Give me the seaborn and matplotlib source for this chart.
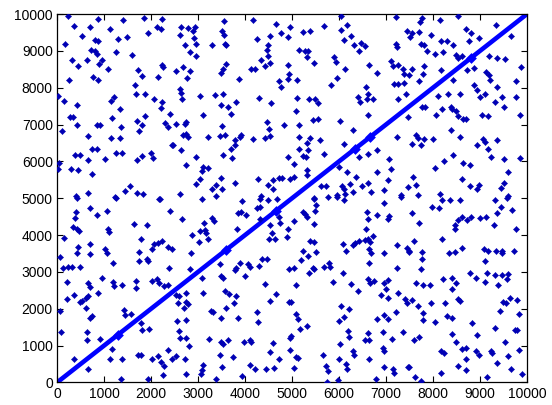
"""
Scatter of random-looking points with a dense diagonal (y = x) band,
recreated with seaborn in a MATLAB-like look.
"""

import pandas as pd
import matplotlib
matplotlib.use("Agg")
import matplotlib.pyplot as plt
import seaborn as sns

# --- data (x, y pairs, grouped by region) ---
pts_top_1 = [
    (226, 9946), (879, 9856), (1410, 9829), (1857, 9892), (2226, 9856), (368, 9675),
    (694, 9648), (1127, 9603), (2127, 9648), (2212, 9603), (524, 9403), (1942, 9494),
    (1304, 9331), (1488, 9376), (808, 9286), (865, 9259), (170, 9195), (723, 9032),
    (808, 8987), (858, 8924), (1247, 8969), (1588, 8879), (326, 8743), (631, 8743),
    (950, 8743), (900, 8634), (439, 8589), (1091, 8498), (1730, 8471), (2226, 8607),
    (2247, 8562), (1800, 8317), (2155, 8290), (765, 8290), (865, 8200), (255, 8200),
    (1659, 8082), (1680, 7838), (1864, 7829), (2056, 7702), (28, 7774), (156, 7630),
    (1148, 7639), (1219, 7747), (2226, 7612), (2212, 7449), (425, 7521), (1340, 7431),
    (2403, 7295), (276, 7204), (347, 7204), (1177, 7177), (1871, 7231), (1694, 7087),
    (1800, 6978), (2297, 7050), (2354, 6933), (843, 6996), (914, 6978), (418, 6978),
    (1354, 6933), (99, 6815), (1744, 6824), (652, 6688), (1148, 6634), (1340, 6634),
    (2453, 6453), (737, 6326), (858, 6326), (382, 6182), (489, 6182), (1247, 6227),
    (1375, 6227), (1021, 6073), (652, 6028), (1694, 6028), (1800, 6136), (1999, 6236),
    (2049, 6091), (42, 5964), (14, 5783), (297, 5802), (439, 5756), (737, 5666),
    (1552, 5322), (1446, 5186), (1694, 5141), (1836, 5105), (397, 5059), (666, 5141),
    (1233, 5032), (2190, 4987),
]
pts_top_2 = [
    (2645, 9648), (2787, 9621), (2929, 9648), (2893, 9530), (2610, 9440), (2908, 9349),
    (2964, 9195), (2723, 9150), (2823, 8969), (2964, 8860), (3290, 9150), (3546, 9802),
    (3517, 9530), (3546, 9440), (3567, 9195), (3602, 9150), (4170, 9829), (4652, 9738),
    (4538, 9403), (4772, 9494), (4914, 9376), (4964, 9648), (4255, 9331), (4489, 9168),
    (4467, 9014), (4489, 8860), (4347, 8761), (4538, 8679), (4418, 8589), (4914, 8625),
    (3602, 8652), (3532, 8498), (3496, 8408), (4134, 8498), (4205, 8498), (2681, 8562),
    (2539, 8444), (2823, 8444), (2766, 8263), (3872, 8245), (4723, 8173), (4772, 8019),
    (4914, 8245), (4935, 8381), (2624, 7974), (2645, 7865), (2667, 7684), (3035, 7774),
    (3354, 7792), (3532, 7838), (4297, 7729), (4560, 7594), (3496, 7539), (3638, 7476),
    (3815, 7612), (3709, 7295), (3106, 7268), (2539, 7023), (2716, 7023), (2752, 7069),
    (2681, 6707), (2787, 6661), (2737, 6752), (3212, 6670), (3461, 6688), (3567, 6707),
    (3517, 6960), (3780, 6571), (3886, 6661), (3921, 6725), (4170, 6598), (4418, 6634),
    (4524, 6688), (4467, 7069), (4510, 6869), (4822, 6978), (2468, 6435), (2645, 6299),
    (2950, 6118), (3532, 6164), (3709, 6345), (3780, 6435), (3730, 6091), (4914, 6118),
    (2737, 5892), (3106, 5847), (3212, 5819), (3092, 5729), (3496, 5557), (2950, 5394),
    (3035, 5512), (3390, 5367), (3305, 5240), (3517, 5259), (3780, 5422), (4276, 5512),
    (4595, 5503), (4723, 5557), (4794, 5557), (4950, 5512), (4489, 5349), (4595, 5240),
    (4347, 5050), (2624, 5123), (3376, 5059),
]
pts_top_3 = [
    (6044, 9946), (7213, 9919), (5689, 9675), (5228, 9512), (5391, 9530), (6044, 9557),
    (6171, 9693), (6256, 9403), (6100, 9286), (6313, 9168), (6469, 9222), (6554, 9132),
    (6419, 8996), (7213, 9195), (7235, 9105), (7447, 9530), (7518, 9376), (5157, 9014),
    (5278, 8987), (5349, 8996), (5320, 8833), (5462, 8679), (5888, 8833), (5937, 8698),
    (6129, 8498), (6646, 8625), (6809, 8408), (7107, 8716), (7142, 8589), (7249, 8607),
    (7355, 8498), (7391, 8381), (7497, 8336), (5108, 8200), (5831, 8082), (5958, 8263),
    (6575, 8019), (6625, 7838), (6398, 7747), (6455, 7612), (6597, 7702), (6717, 7684),
    (7164, 8109), (7249, 8109), (7391, 8136), (7426, 7838), (7249, 7702), (5108, 7720),
    (5370, 7684), (5490, 7684), (5547, 7593), (5086, 7358), (6625, 7268), (7476, 7204),
    (5441, 7114), (5547, 7159), (6029, 7087), (5157, 6978), (6292, 6842), (5157, 6661),
    (5391, 6634), (5604, 6571), (5320, 6507), (5157, 6345), (5335, 6299), (5228, 6146),
    (5299, 6118), (5689, 6209), (6114, 6480), (6433, 6118), (6625, 6209), (6809, 6299),
    (7072, 6073), (7235, 6661), (5037, 5937), (5320, 5756), (5320, 5639), (6008, 5847),
    (6171, 5711), (6809, 5711), (7107, 5783), (5037, 5575), (6363, 5575), (6625, 5422),
    (6483, 5331), (6242, 5394), (6058, 5331), (6100, 5259), (5618, 5331), (5724, 5331),
    (5958, 5078), (6129, 5123), (6292, 5168), (6682, 5168), (6951, 5213), (7036, 5485),
    (7320, 5096), (7462, 5304), (5462, 5005),
]
pts_top_4 = [
    (7775, 9892), (8143, 9829), (8540, 9946), (9349, 9711), (7718, 9784), (7562, 9494),
    (7704, 9512), (7952, 9421), (8710, 9584), (8803, 9494), (8767, 9259), (8980, 9349),
    (9653, 9403), (8165, 9259), (8306, 9259), (8427, 9168), (7739, 9195), (7810, 9168),
    (7881, 8987), (8044, 8924), (8214, 8969), (8484, 8897), (8611, 8860), (8540, 8806),
    (9193, 8860), (9370, 8806), (9533, 8788), (9866, 8562), (7810, 8589), (7562, 8498),
    (7789, 8381), (8165, 8471), (8732, 8471), (8874, 8535), (9136, 8426), (9193, 8354),
    (7704, 8173), (8427, 8200), (8874, 8082), (8944, 7928), (9207, 8200), (9370, 8019),
    (9774, 8173), (8115, 7774), (8328, 7838), (8569, 7838), (9001, 7747), (9108, 7838),
    (9320, 7612), (9462, 7747), (9512, 7476), (9760, 7747), (7775, 7476), (7831, 7476),
    (8200, 7413), (8377, 7476), (8413, 7413), (8484, 7358), (8058, 7250), (8540, 7231),
    (8640, 7159), (8710, 7159), (9037, 7250), (9179, 7231), (9845, 7250), (8377, 6842),
    (7633, 6725), (7690, 6634), (7810, 6616), (8001, 6616), (8569, 6661), (9065, 6598),
    (9108, 6526), (8944, 6435), (9179, 6326), (9370, 6571), (7562, 6480), (7739, 6435),
    (8427, 6164), (9228, 6118), (9512, 6055), (9845, 6091), (8044, 5819), (8235, 6001),
    (8640, 5964), (8781, 5910), (9604, 5711), (7576, 5575), (7647, 5367), (8143, 5123),
    (8625, 5512), (8781, 5331), (8980, 5367), (8944, 5259), (9441, 5277), (9512, 5422),
    (9604, 5059), (7690, 5096),
]
pts_bottom_1 = [
    (418, 5017), (1247, 5017), (2169, 4972), (2403, 4655), (701, 4745), (1056, 4655),
    (843, 4537), (397, 4628), (382, 4474), (347, 4229), (418, 4157), (467, 4112),
    (1091, 4157), (1106, 4085), (1644, 4293), (1907, 4266), (156, 3931), (1786, 3886),
    (2240, 3840), (2155, 3795), (2070, 3768), (453, 3686), (701, 3768), (418, 3524),
    (701, 3478), (1021, 3614), (1056, 3524), (1744, 3542), (1907, 3361), (1942, 3297),
    (1744, 3297), (2027, 3614), (2368, 3686), (2453, 3614), (63, 3415), (1198, 3234),
    (134, 3116), (241, 3143), (312, 3143), (489, 3143), (2382, 3116), (950, 2845),
    (1198, 2727), (1219, 2619), (1375, 2637), (1673, 2754), (1673, 2573), (2013, 2754),
    (2119, 2800), (2169, 2691), (2283, 2619), (2354, 2637), (205, 2727), (666, 2709),
    (701, 2600), (879, 2438), (205, 2275), (368, 2365), (489, 2184), (538, 2211),
    (609, 2302), (666, 2347), (609, 2030), (737, 1804), (701, 1759), (63, 1940),
    (1432, 1967), (1446, 1822), (1574, 1849), (1786, 1605), (1815, 1424), (1956, 1442),
    (85, 1370), (645, 1370), (631, 1152), (914, 1170), (1177, 917), (368, 646),
    (666, 374), (1127, 628), (1375, 646), (1730, 736), (1786, 736), (2013, 628),
    (2155, 718), (2368, 881), (2439, 646), (2212, 555), (2283, 446), (1361, 103),
    (1928, 85), (2261, 193),
]
pts_bottom_2 = [
    (3092, 4972), (3943, 4926), (4326, 4990), (4489, 4953), (4680, 4990), (3921, 4628),
    (3851, 4591), (4014, 4537), (4255, 4745), (4326, 4772), (2667, 4447), (3120, 4338),
    (3305, 4474), (3333, 4383), (3829, 4175), (4326, 4447), (4723, 4501), (4751, 4338),
    (4538, 4266), (4914, 4175), (4893, 3958), (4581, 4048), (4510, 3886), (4630, 3904),
    (2879, 3994), (3049, 4112), (3142, 4139), (3177, 4067), (3021, 3813), (3212, 3904),
    (2858, 3506), (2837, 3089), (3475, 3207), (3092, 2845), (3496, 2890), (3532, 2845),
    (3780, 3053), (3815, 3116), (3886, 3252), (4063, 3207), (4099, 3143), (3992, 2890),
    (4297, 3162), (4368, 3342), (4467, 3342), (4935, 3089), (2539, 2365), (2596, 2347),
    (2752, 2419), (2737, 2184), (2787, 2121), (2574, 2148), (2695, 2030), (3106, 2419),
    (3567, 2483), (3659, 2392), (3815, 2347), (4418, 2664), (4652, 2392), (3758, 2166),
    (3588, 2030), (4538, 2211), (4935, 2184), (3283, 1940), (3319, 1913), (3496, 1759),
    (3851, 1759), (4255, 1913), (4276, 1641), (2553, 1668), (2737, 1695), (2596, 1397),
    (2610, 1216), (2737, 1216), (3234, 1189), (3496, 1098), (3532, 1035), (3638, 1152),
    (3971, 1098), (4099, 1152), (4134, 1098), (4595, 1080), (4964, 1216), (2808, 989),
    (2525, 718), (2716, 646), (3106, 465), (3092, 338), (3071, 220), (3461, 736),
    (3517, 428), (3744, 700), (4113, 465), (4205, 356), (4439, 374), (4609, 401),
    (4723, 646), (4524, 827), (4964, 881), (2737, 220), (3376, 85), (3943, 175),
]
pts_bottom_3 = [
    (5476, 4990), (5760, 5044), (5958, 5044), (6100, 4953), (6951, 4863), (7320, 5044),
    (5512, 4809), (5490, 4655), (5228, 4628), (5278, 4564), (5320, 4501), (5037, 4383),
    (5476, 4293), (6597, 4628), (6625, 4447), (6809, 4537), (7072, 4519), (7036, 4447),
    (6575, 4175), (5391, 3840), (5462, 3813), (6079, 3750), (6341, 3795), (6292, 3723),
    (6433, 3840), (6554, 3867), (6611, 3904), (6717, 3976), (6667, 3813), (6646, 3614),
    (6682, 3506), (6150, 3569), (6951, 3524), (7235, 3723), (7447, 3659), (7497, 3542),
    (5228, 3569), (5335, 3433), (5512, 3542), (5193, 3324), (5037, 3116), (5441, 3116),
    (5476, 3071), (5370, 2962), (5689, 3143), (5817, 3143), (5795, 3234), (6079, 2962),
    (6646, 3234), (7235, 3116), (6625, 2800), (6667, 2709), (6738, 2754), (6951, 2709),
    (7036, 2781), (5866, 2727), (6256, 2664), (6398, 2483), (7001, 2528), (6894, 2365),
    (7036, 2302), (7249, 2419), (7405, 2257), (7447, 2166), (5086, 2637), (4980, 2184),
    (5086, 1849), (5136, 1714), (5320, 1533), (5179, 1442), (6044, 2076), (6114, 1786),
    (6221, 2003), (6008, 1668), (6809, 1732), (6951, 1822), (7050, 1714), (7213, 1913),
    (4980, 1261), (6199, 1397), (6221, 1243), (6625, 1352), (6554, 1152), (6646, 1152),
    (6930, 1370), (7121, 1189), (7355, 1370), (6029, 1035), (6292, 854), (6313, 736),
    (6930, 944), (6965, 854), (5086, 700), (5136, 673), (5654, 736), (6008, 646),
    (6646, 646), (5037, 401), (5724, 446), (5760, 311), (6150, 492), (6171, 374),
    (6965, 428), (7142, 356), (7164, 265), (7476, 428), (5746, 12), (5973, 66),
    (6788, 103),
]
pts_bottom_4 = [
    (8186, 4953), (8356, 4953), (8569, 4953), (9320, 4953), (9583, 5017), (7562, 4610),
    (7704, 4338), (7973, 4772), (8129, 4745), (9441, 4772), (9689, 4682), (8469, 4266),
    (8469, 4175), (8540, 4410), (8625, 4501), (8732, 4410), (8803, 4501), (8994, 4474),
    (9136, 4501), (9370, 4591), (9299, 4266), (9774, 4175), (8186, 3886), (7597, 3840),
    (7491, 3569), (7775, 3542), (7760, 3361), (8342, 3506), (8469, 3542), (8625, 3659),
    (9086, 3632), (9178, 3569), (9349, 3569), (9462, 3569), (9476, 3506), (9724, 3569),
    (9108, 3297), (7739, 3071), (7633, 2691), (7789, 2637), (7931, 2637), (8214, 2800),
    (8413, 2845), (8484, 2691), (8413, 2528), (8781, 2962), (8909, 2845), (9108, 2727),
    (9157, 2962), (9320, 2908), (9476, 2908), (9583, 2800), (9604, 2935), (9391, 2637),
    (7548, 2238), (7690, 2076), (7952, 2148), (8257, 2166), (8540, 2257), (8569, 2211),
    (9490, 2184), (9561, 2166), (9632, 2302), (9795, 2238), (7789, 1895), (7789, 1695),
    (8044, 1641), (8306, 1804), (8413, 1759), (8838, 1605), (9420, 1940), (9831, 1849),
    (9320, 1487), (7597, 1152), (7704, 1243), (8413, 1306), (8484, 1098), (8944, 1279),
    (9746, 1424), (9795, 1424), (9533, 1098), (8165, 854), (8235, 790), (8611, 917),
    (8710, 944), (8909, 854), (8980, 736), (9228, 854), (9264, 808), (9831, 881),
    (8696, 628), (8540, 446), (8710, 338), (9370, 537), (9604, 718), (9653, 374),
    (9902, 220), (7491, 428), (7619, 157), (7739, 39), (8165, 247), (9157, 157),
]

# diagonal band (end points) and the thicker clumps sitting on it
diag_x = [0, 10000]
diag_y = [0, 10000]
clump_vals = [1300, 3600, 4650, 6350, 6650, 8800]

tick_vals = list(range(0, 10001, 1000))

BLUE = '#0000ff'
DOT = '#0000b4'


def build_frame():
    """Collect the scattered points into one DataFrame"""
    groups = [pts_top_1, pts_top_2, pts_top_3, pts_top_4,
              pts_bottom_1, pts_bottom_2, pts_bottom_3, pts_bottom_4]
    rows = [p for g in groups for p in g]
    return pd.DataFrame(rows, columns=['x', 'y'])


def plot_scatter(df):
    sns.set_style("ticks")
    plt.rcParams['font.family'] = ['Liberation Sans', 'DejaVu Sans']

    fig = plt.figure(figsize=(5.52, 4.05), dpi=100)
    ax = fig.add_axes([0.1033, 0.0556, 0.8514, 0.9098])

    # diagonal first, dots drawn on top
    sns.lineplot(x=diag_x, y=diag_y, ax=ax, color=BLUE, linewidth=3.3,
                 solid_capstyle='butt', zorder=2)
    sns.scatterplot(x=clump_vals, y=clump_vals, ax=ax, color=BLUE, marker='D',
                    s=30, linewidth=0, zorder=3)
    sns.scatterplot(data=df, x='x', y='y', ax=ax, color=DOT, marker='D',
                    s=10, linewidth=0.3, edgecolor=DOT, zorder=4)

    ax.set_xlim(0, 10000)
    ax.set_ylim(0, 10000)
    ax.set_xticks(tick_vals)
    ax.set_yticks(tick_vals)
    ax.set_xticklabels([str(v) for v in tick_vals])
    ax.set_yticklabels([str(v) for v in tick_vals])
    ax.set_xlabel('')
    ax.set_ylabel('')

    ax.tick_params(direction='in', length=4.5, width=0.8, labelsize=10,
                   colors='black', top=True, right=True, pad=3)
    for side in ['left', 'right', 'top', 'bottom']:
        ax.spines[side].set_visible(True)
        ax.spines[side].set_color('black')
        ax.spines[side].set_linewidth(0.9)

    fig.savefig('out.png', dpi=100, facecolor='white')
    plt.close(fig)


if __name__ == "__main__":
    plot_scatter(build_frame())
